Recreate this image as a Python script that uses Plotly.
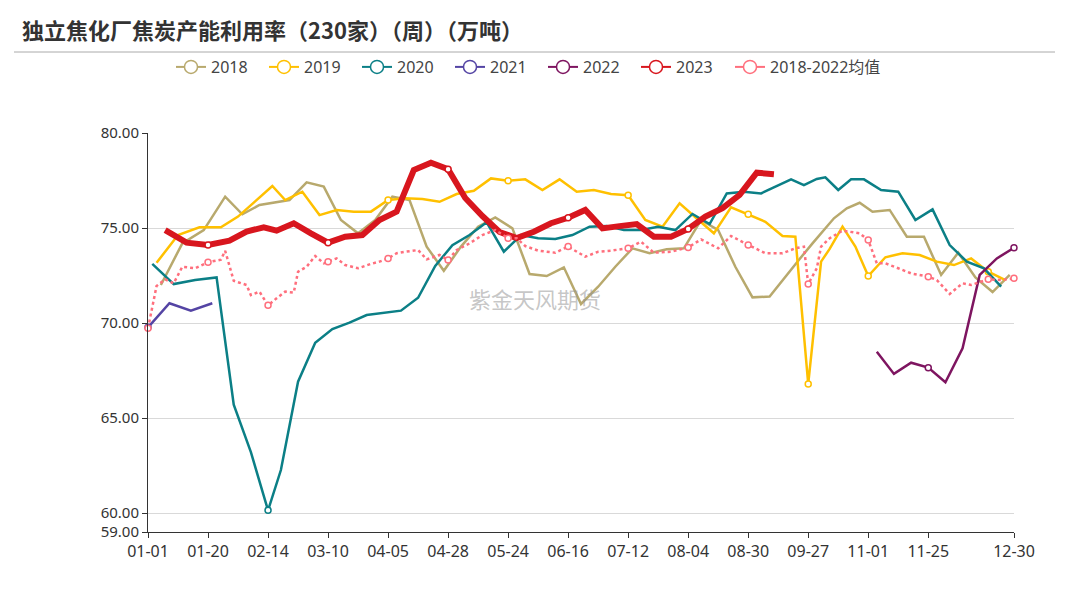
import plotly.graph_objects as go

TITLE = "独立焦化厂焦炭产能利用率（230家）（周）（万吨）"
WATERMARK = "紫金天风期货"

tick_labels = ["01-01", "01-20", "02-14", "03-10", "04-05", "04-28", "05-24", "06-16",
               "07-12", "08-04", "08-30", "09-27", "11-01", "11-25", "12-30"]
y_ticks = [59, 60, 65, 70, 75, 80]

dates_2018 = ["01-05", "01-12", "01-19", "01-26", "02-02", "02-09", "02-23", "03-02", "03-09", "03-16",
              "03-23", "03-30", "04-06", "04-13", "04-20", "04-27", "05-04", "05-11", "05-18", "05-25",
              "06-01", "06-08", "06-15", "06-22", "06-29", "07-06", "07-13", "07-20", "07-27", "08-03",
              "08-10", "08-17", "08-24", "08-31", "09-07", "09-14", "09-21", "09-28", "10-12", "10-19",
              "10-26", "11-02", "11-09", "11-16", "11-23", "11-30", "12-07", "12-14", "12-21", "12-28"]
vals_2018 = [72.0, 74.19, 74.89, 76.65, 75.72, 76.21, 76.47, 77.4, 77.18, 75.42,
             74.72, 75.42, 76.65, 76.47, 74.02, 72.75, 74.02, 75.07, 75.56, 74.98,
             72.58, 72.47, 72.93, 71.0, 71.91, 72.96, 73.93, 73.67, 73.88, 73.93,
             75.42, 74.89, 72.96, 71.35, 71.39, 72.54, 73.37, 74.19, 75.51, 76.04,
             76.33, 75.86, 75.95, 74.54, 74.54, 72.53, 73.7, 72.4, 71.63, 72.53]

dates_2019 = ["01-04", "01-11", "01-18", "01-25", "02-01", "02-08", "02-15", "02-22", "03-01", "03-08",
              "03-15", "03-22", "03-29", "04-05", "04-12", "04-19", "04-26", "05-03", "05-10", "05-17",
              "05-24", "05-31", "06-07", "06-14", "06-21", "06-28", "07-05", "07-12", "07-19", "07-26",
              "08-02", "08-09", "08-16", "08-23", "08-30", "09-06", "09-13", "09-20", "09-27", "10-04",
              "10-11", "10-18", "10-25", "11-01", "11-08", "11-15", "11-22", "11-29", "12-06", "12-13",
              "12-20", "12-27"]
vals_2019 = [73.17, 74.63, 75.04, 75.04, 75.6, 76.38, 77.21, 76.47, 76.91, 75.68,
             75.95, 75.86, 75.86, 76.47, 76.56, 76.53, 76.38, 76.79, 76.96, 77.61,
             77.49, 77.56, 77.0, 77.56, 76.91, 77.0, 76.79, 76.72, 75.42, 75.07,
             76.3, 75.5, 74.72, 76.09, 75.72, 75.33, 74.58, 74.54, 66.79, 73.23,
             73.9, 75.07, 74.02, 72.47, 73.46, 73.67, 73.58, 73.23, 73.05, 73.4,
             72.7, 72.26]

dates_2020 = ["01-03", "01-10", "01-17", "01-24", "01-31", "02-07", "02-14", "02-21", "02-28", "03-06",
              "03-13", "03-20", "03-27", "04-03", "04-10", "04-17", "04-24", "05-01", "05-08", "05-15",
              "05-22", "05-29", "06-05", "06-12", "06-19", "06-26", "07-03", "07-10", "07-17", "07-24",
              "07-31", "08-07", "08-14", "08-21", "08-28", "09-04", "09-11", "09-18", "09-25", "10-02",
              "10-09", "10-16", "10-23", "10-30", "11-06", "11-13", "11-20", "11-27", "12-04", "12-11",
              "12-18", "12-25"]
vals_2020 = [73.11, 72.05, 72.26, 72.4, 65.7, 63.2, 60.14, 62.26, 66.91, 68.96,
             69.68, 70.02, 70.42, 70.54, 70.65, 71.33, 73.0, 74.1, 74.63, 75.3,
             73.75, 74.63, 74.46, 74.42, 74.63, 75.07, 75.1, 74.89, 74.89, 75.07,
             74.89, 75.74, 75.21, 76.82, 76.91, 76.82, 77.26, 77.56, 77.26, 77.58,
             77.67, 77.0, 77.56, 77.56, 77.0, 76.91, 75.42, 75.98, 74.1, 73.23,
             72.88, 71.91]

dates_2021 = ["01-01", "01-08", "01-15", "01-22"]
vals_2021 = [69.77, 71.04, 70.65, 71.04]

dates_2022 = ["11-04", "11-11", "11-18", "11-25", "12-02", "12-09", "12-16", "12-23", "12-30"]
vals_2022 = [68.49, 67.32, 67.91, 67.65, 66.88, 68.67, 72.53, 73.4, 73.96]

dates_2023 = ["01-06", "01-13", "01-20", "01-27", "02-03", "02-10", "02-17", "02-24", "03-03", "03-10",
              "03-17", "03-24", "03-31", "04-07", "04-14", "04-21", "04-28", "05-05", "05-12", "05-19",
              "05-26", "06-02", "06-09", "06-16", "06-23", "06-30", "07-07", "07-14", "07-21", "07-28",
              "08-04", "08-11", "08-18", "08-25", "09-01", "09-08"]
vals_2023 = [74.89, 74.23, 74.11, 74.33, 74.81, 75.04, 74.86, 75.25, 74.72, 74.23,
             74.54, 74.63, 75.42, 75.86, 78.05, 78.44, 78.09, 76.58, 75.63, 74.79,
             74.47, 74.8, 75.25, 75.54, 75.95, 74.98, 75.1, 75.21, 74.54, 74.54,
             74.95, 75.6, 76.04, 76.74, 77.91, 77.83]

dates_avg = ["01-01", "01-04", "01-06", "01-10", "01-12", "01-17", "01-20", "01-25", "01-26", "01-31",
             "02-03", "02-07", "02-09", "02-14", "02-17", "02-22", "02-24", "02-28", "03-02", "03-06",
             "03-09", "03-10", "03-15", "03-17", "03-23", "03-29", "03-31", "04-05", "04-07", "04-12",
             "04-17", "04-20", "04-26", "04-28", "05-03", "05-08", "05-12", "05-18", "05-24", "05-26",
             "05-31", "06-05", "06-12", "06-16", "06-23", "06-29", "07-05", "07-12", "07-17", "07-21",
             "07-28", "08-04", "08-10", "08-17", "08-23", "08-30", "09-06", "09-13", "09-20", "09-25",
             "09-27", "10-02", "10-04", "10-11", "10-18", "10-26", "11-01", "11-04", "11-08", "11-13",
             "11-18", "11-25", "11-29", "12-04", "12-09", "12-13", "12-20", "12-25", "12-30"]
vals_avg = [69.72, 71.95, 72.3, 72.09, 72.96, 72.88, 73.2, 73.33, 73.8, 72.22,
            72.0, 71.47, 71.65, 70.93, 71.3, 71.65, 71.6, 72.7, 72.96, 73.53,
            73.14, 73.23, 73.4, 73.05, 72.88, 73.11, 73.23, 73.4, 73.67, 73.75,
            73.84, 73.35, 73.58, 73.32, 73.84, 74.19, 74.63, 74.89, 74.46, 74.46,
            74.05, 73.81, 73.7, 74.02, 73.49, 73.75, 73.81, 73.93, 74.28, 73.7,
            73.75, 73.98, 74.4, 73.93, 74.58, 74.11, 73.67, 73.67, 73.93, 74.02,
            72.05, 72.88, 74.02, 74.46, 74.86, 74.72, 74.37, 73.14, 73.14, 72.88,
            72.61, 72.44, 72.26, 71.53, 72.09, 72.0, 72.3, 72.26, 72.35]

series = [
    ("2018", dates_2018, vals_2018, "#b8a96d", 2.5, "solid"),
    ("2019", dates_2019, vals_2019, "#ffc000", 2.5, "solid"),
    ("2020", dates_2020, vals_2020, "#0b7f86", 2.5, "solid"),
    ("2021", dates_2021, vals_2021, "#5444a4", 2.5, "solid"),
    ("2022", dates_2022, vals_2022, "#7e1560", 2.5, "solid"),
    ("2023", dates_2023, vals_2023, "#d8161e", 6, "solid"),
    ("2018-2022均值", dates_avg, vals_avg, "#ff6f7d", 2.5, "dot"),
]

# category axis = union of all dates (as the original category axis)
categories = sorted(set(d for s in series for d in s[1]))
cat_index = {c: i for i, c in enumerate(categories)}
n_cat = len(categories)
SYMBOL_STEP = 14  # symbols shown at the label interval

FONT = "Noto Sans, Noto Sans CJK SC, sans-serif"

fig = go.Figure()
for name, dates, vals, color, width, dash in series:
    fig.add_trace(go.Scatter(
        x=dates, y=vals, mode="lines", name=name, showlegend=False,
        line=dict(color=color, width=width, dash=dash), cliponaxis=False,
        hoverinfo="x+y+name"))
    keep = [cat_index[d] % SYMBOL_STEP == 0 or cat_index[d] == n_cat - 1 for d in dates]
    mx = [d for d, k in zip(dates, keep) if k]
    my = [v for v, k in zip(vals, keep) if k]
    fig.add_trace(go.Scatter(
        x=mx, y=my, mode="markers", showlegend=False, cliponaxis=False,
        marker=dict(symbol="circle", size=6, color="white", line=dict(color=color, width=1.5)),
        hoverinfo="skip"))

for i, (name, dates, vals, color, width, dash) in enumerate(series):
    fig.add_trace(go.Scatter(
        x=[None], y=[None], mode="lines+markers", name=name, showlegend=True,
        legend="legend" if i < len(series) - 1 else "legend2",
        line=dict(color=color, width=2),
        marker=dict(symbol="circle", size=13, color="white", line=dict(color=color, width=1.5))))

legend_common = dict(orientation="h", xref="container", yref="container",
                     xanchor="left", y=1 - 67 / 613, yanchor="middle",
                     font=dict(family=FONT, size=16, color="#444444"),
                     itemwidth=30, bgcolor="rgba(0,0,0,0)", traceorder="normal")

fig.update_layout(
    width=1069, height=613, autosize=False,
    margin=dict(l=148, r=55, t=133, b=81),
    paper_bgcolor="white", plot_bgcolor="white",
    font=dict(family=FONT, color="#333333", size=14),
    title=dict(text="<b>" + TITLE + "</b>", xref="container", yref="container",
               x=22 / 1069, xanchor="left", y=1 - 31 / 613, yanchor="middle",
               font=dict(family="Noto Sans CJK SC, sans-serif", size=22, color="#333333")),
    legend=dict(legend_common, x=171 / 1069, entrywidth=48, entrywidthmode="pixels"),
    legend2=dict(legend_common, x=730 / 1069),
    xaxis=dict(type="category", categoryorder="array", categoryarray=categories,
               range=[0, n_cat - 1], tickmode="array", tickvals=tick_labels, ticktext=tick_labels,
               ticks="outside", ticklen=5, tickcolor="#333333", showline=True,
               linecolor="#333333", linewidth=1, showgrid=False, zeroline=False,
               tickfont=dict(size=16, color="#333333")),
    yaxis=dict(range=[59, 80], tickmode="array", tickvals=y_ticks,
               ticktext=[f"{v:.2f}" for v in y_ticks],
               ticks="outside", ticklen=5, tickcolor="#333333", showline=True,
               linecolor="#333333", linewidth=1, showgrid=True, gridcolor="#d9d9d9",
               gridwidth=1, zeroline=False, tickfont=dict(size=15, color="#333333")),
    shapes=[dict(type="line", xref="paper", yref="paper",
                 x0=(14 - 148) / 866, x1=(1055 - 148) / 866,
                 y0=1 + (133 - 52) / 399, y1=1 + (133 - 52) / 399,
                 line=dict(color="#aaaaaa", width=1))],
    annotations=[dict(text=WATERMARK, xref="paper", yref="paper",
                      x=(535 - 148) / 866, y=(532 - 298) / 399, showarrow=False,
                      font=dict(family="Noto Sans CJK SC, sans-serif", size=22,
                                color="rgba(150,150,150,0.55)"))],
)

fig.write_html("out.html")
